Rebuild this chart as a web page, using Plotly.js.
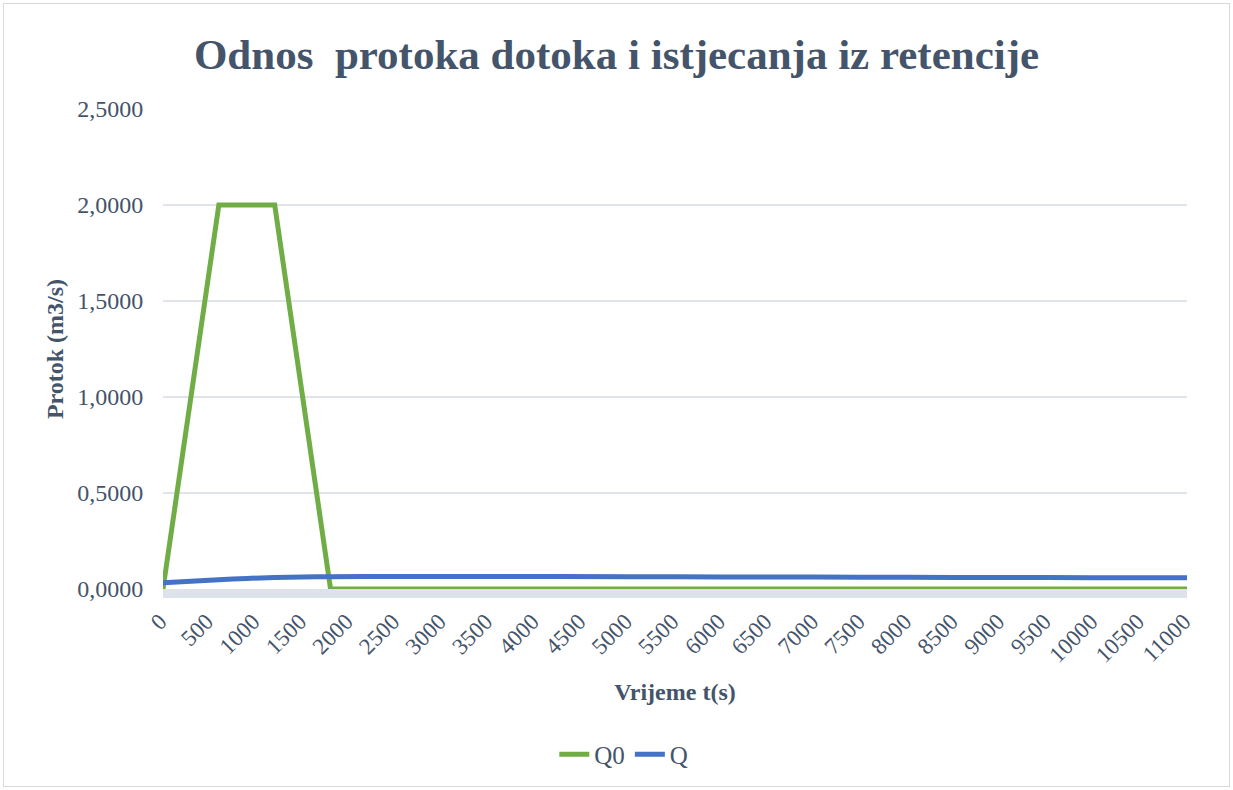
<!DOCTYPE html>
<html>
<head>
<meta charset="utf-8">
<script src="https://cdn.plot.ly/plotly-3.0.1.min.js"></script>
<style>
  html, body { margin: 0; padding: 0; background: #ffffff; }
  #wrap { position: relative; width: 1233px; height: 790px; }
  #chart { position: absolute; left: 0; top: 0; width: 1233px; height: 790px; }
  #frame { position: absolute; left: 3px; top: 3px; width: 1225px; height: 782px;
           border: 1px solid #d9d9d9; pointer-events: none; }
</style>
</head>
<body>
<div id="wrap">
  <div id="chart"></div>
  <div id="frame"></div>
</div>
<script>
// Time (s) and flows (m3/s)
const timeQ0 = [0, 600, 1200, 1800, 2500, 5000, 8000, 11000];
const valuesQ0 = [0.0, 2.0, 2.0, 0.0, 0.0, 0.0, 0.0, 0.0];

const timeQ = [0, 300, 600, 900, 1200, 1500, 1800, 2500, 3500, 5000, 6000, 7000, 8000, 9000, 10000, 11000];
const valuesQ = [0.033, 0.041, 0.048, 0.055, 0.060, 0.063, 0.064, 0.065, 0.065, 0.064, 0.063, 0.062, 0.061, 0.060, 0.059, 0.058];

const xTickVals = [0, 500, 1000, 1500, 2000, 2500, 3000, 3500, 4000, 4500, 5000, 5500,
                   6000, 6500, 7000, 7500, 8000, 8500, 9000, 9500, 10000, 10500, 11000];
const xTickText = ["0", "500", "1000", "1500", "2000", "2500", "3000", "3500", "4000", "4500", "5000", "5500",
                   "6000", "6500", "7000", "7500", "8000", "8500", "9000", "9500", "10000", "10500", "11000"];

const seriesNames = ["Q0", "Q"];
const textColor = "#44546a";
const font = "'Liberation Serif', 'Times New Roman', serif";

const traces = [
  {
    x: timeQ0, y: valuesQ0, name: seriesNames[0], type: "scatter", mode: "lines",
    line: { color: "#70ad47", width: 5 }, cliponaxis: false
  },
  {
    x: timeQ, y: valuesQ, name: seriesNames[1], type: "scatter", mode: "lines",
    line: { color: "#4472c4", width: 5, shape: "spline", smoothing: 0.6 }, cliponaxis: false
  }
];

const layout = {
  width: 1233, height: 790,
  margin: { l: 163, r: 46, t: 109, b: 201 },
  paper_bgcolor: "#ffffff", plot_bgcolor: "#ffffff",
  separators: ", ",
  font: { family: font, color: textColor, size: 22 },
  title: {
    text: "<b>Odnos \u00a0protoka dotoka i istjecanja iz retencije</b>",
    font: { family: font, size: 43, color: textColor },
    x: 0.5, xanchor: "center", y: 0.932, yanchor: "middle"
  },
  xaxis: {
    range: [0, 11000],
    tickvals: xTickVals, ticktext: xTickText,
    tickangle: -45,
    tickfont: { family: font, size: 23, color: textColor },
    ticks: "outside", ticklen: 1, tickcolor: "rgba(0,0,0,0)",
    ticklabelshift: -3,
    showgrid: false, zeroline: false,
    showline: true, linecolor: "#dee2ea", linewidth: 9,
    layer: "below traces",
    title: {
      text: "<b>Vrijeme t(s)</b>",
      font: { family: font, size: 24, color: textColor },
      standoff: 20
    }
  },
  yaxis: {
    range: [0, 2.5],
    dtick: 0.5, tick0: 0,
    tickformat: ".4f",
    tickfont: { family: font, size: 24, color: textColor },
    ticks: "outside", ticklen: 14, tickcolor: "rgba(0,0,0,0)",
    showgrid: true, gridcolor: "#e1e4ea", gridwidth: 2,
    zeroline: false, showline: false,
    layer: "below traces",
    title: {
      text: "<b>Protok (m3/s)</b>",
      font: { family: font, size: 24, color: textColor },
      standoff: 6
    }
  },
  showlegend: true,
  legend: {
    orientation: "h",
    x: 0.45, xanchor: "center",
    y: -0.345, yanchor: "middle",
    font: { family: font, size: 25, color: textColor },
    bgcolor: "rgba(0,0,0,0)",
    itemwidth: 30
  }
};

Plotly.newPlot("chart", traces, layout, { displayModeBar: false, staticPlot: true });
</script>
</body>
</html>
